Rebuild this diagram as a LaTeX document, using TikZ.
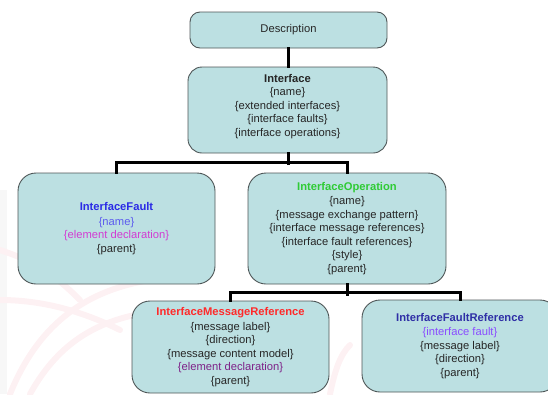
\documentclass[tikz,border=0pt]{standalone}
\usepackage{fontspec}
\setmainfont{Liberation Sans}
\begin{document}
\definecolor{boxfill}{HTML}{BCE0E2}
\definecolor{boxline}{HTML}{4E5657}
\definecolor{txt}{HTML}{262626}
\definecolor{faultblue}{HTML}{2A2AE6}
\definecolor{namehue}{HTML}{5C5CEE}
\definecolor{magentahue}{HTML}{D23CD2}
\definecolor{opgreen}{HTML}{2FCB35}
\definecolor{msgred}{HTML}{FF2A2A}
\definecolor{declpurple}{HTML}{7E2288}
\definecolor{refblue}{HTML}{2F2FA6}
\definecolor{violethue}{HTML}{8A4DFF}
\definecolor{wash}{HTML}{FDF1F3}
\begin{tikzpicture}[x=1pt,y=-1pt,
  box/.style={draw=boxline, fill=boxfill, line width=0.9pt, align=center,
    text=txt, inner sep=0pt, rounded corners=#1,
    font=\fontsize{11.2}{13.5}\selectfont},
  box/.default=16pt,
  conn/.style={line width=3pt, black, line join=miter, line cap=rect}]
\useasboundingbox (0,0) rectangle (548,394);
\clip (0,0) rectangle (548,394);

% faint watermark behind the lower left
\begin{scope}[line width=6pt, wash, line cap=round]
  \fill[black!3] (0,190) rectangle (7,394);
  \draw (10,394) .. controls (40,320) and (90,290) .. (150,280);
  \draw (30,394) .. controls (60,340) and (100,320) .. (150,312);
  \draw (0,300) .. controls (40,300) and (80,310) .. (120,330);
  \draw (0,250) .. controls (30,260) and (50,270) .. (80,300);
  \draw (330,394) .. controls (335,370) and (340,355) .. (350,345);
\end{scope}

% boxes
\node[box=10pt, minimum width=197pt, minimum height=36pt] (desc) at (288.5,30)
  {Description};
\node[box=14pt, minimum width=199pt, minimum height=86pt] (iface) at (287.5,110)
  {\textbf{Interface}\\{\{name\}}\\{\{extended interfaces\}}\\{\{interface faults\}}\\{\{interface operations\}}\\[-4pt]\mbox{}};
\node[box=18pt, minimum width=197pt, minimum height=111pt] (fault) at (116.5,228.5)
  {\textcolor{faultblue}{\textbf{InterfaceFault}}\\[1pt]
   \textcolor{namehue}{\{name\}}\\
   \textcolor{magentahue}{\{element declaration\}}\\
   \{parent\}};
\node[box=18pt, minimum width=198pt, minimum height=111pt] (oper) at (347,228.5)
  {\textcolor{opgreen}{\textbf{InterfaceOperation}}\\[1pt]
   \{name\}\\
   \{message exchange pattern\}\\
   \{interface message references\}\\
   \{interface fault references\}\\
   \{style\}\\
   \{parent\}};
\node[box=18pt, minimum width=197pt, minimum height=92pt] (imr) at (230.5,347)
  {\textcolor{msgred}{\textbf{InterfaceMessageReference}}\\[1pt]
   \{message label\}\\
   \{direction\}\\
   \{message content model\}\\
   \textcolor{declpurple}{\{element declaration\}}\\
   \{parent\}};
\node[box=18pt, minimum width=196pt, minimum height=92pt] (ifr) at (460,346)
  {\textcolor{refblue}{\textbf{InterfaceFaultReference}}\\[1pt]
   \textcolor{violethue}{\{interface fault\}}\\
   \{message label\}\\
   \{direction\}\\
   \{parent\}};

% connectors
\draw[conn] (desc.south) -- (desc.south |- iface.north);
\draw[conn] (desc.south |- iface.south) -- ++(0,10);
\draw[conn] (fault.north) -- ++(0,-10) -| (oper.north);
\draw[conn] (oper.south) -- ++(0,10);
\draw[conn] (imr.north) -- ++(0,-8) -| (ifr.north);
\end{tikzpicture}
\end{document}
